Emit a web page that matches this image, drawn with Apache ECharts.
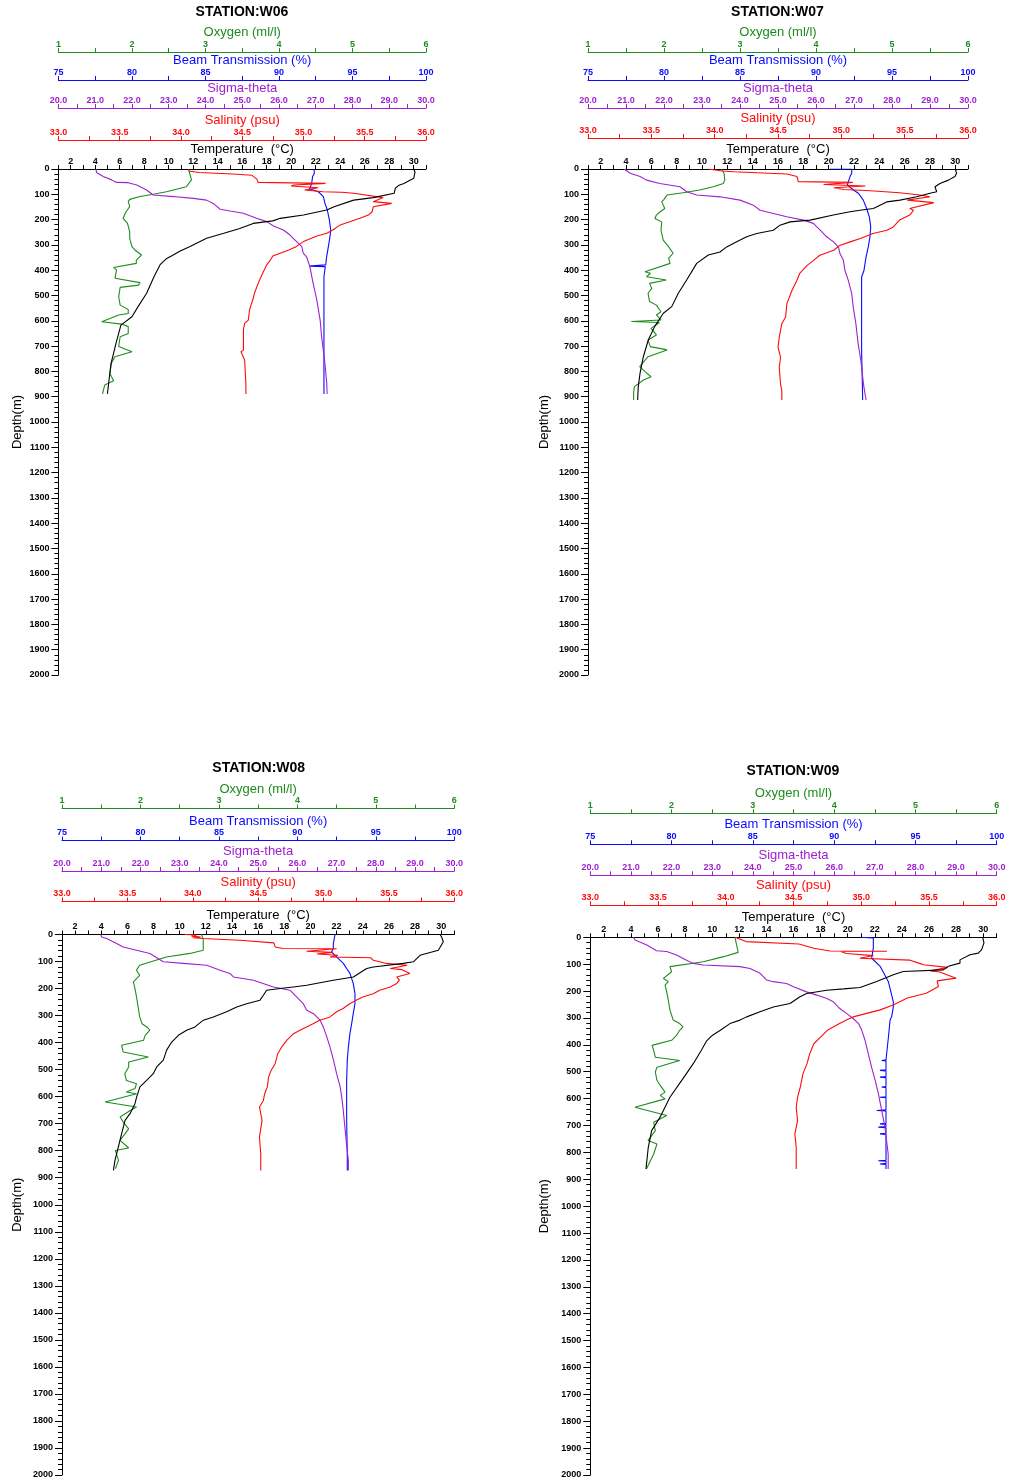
<!DOCTYPE html>
<html>
<head>
<meta charset="utf-8">
<title>CTD profiles W06-W09</title>
<script src="https://cdn.jsdelivr.net/npm/echarts/dist/echarts.min.js"></script>
<style>
  html, body { margin: 0; padding: 0; background: #ffffff; }
  #chart { width: 1011px; height: 1483px; }
</style>
</head>
<body>
<div id="chart"></div>
<script>
// ---- Profile data: [value, depth (m)] ----
const stations = ['W06', 'W07', 'W08', 'W09'];

// Station W06
const w06Temp = [[30.0,0],[30.1,12],[30.0,37],[29.2,57],[28.8,64],[28.5,76],[28.4,96],[26.7,113],[25.1,123],[23.5,149],[22.9,162],[21.0,182],[19.1,195],[18.5,205],[16.9,215],[15.8,235],[14.5,254],[13.1,274],[11.7,307],[10.9,325],[10.3,342],[9.8,355],[9.3,378],[8.8,426],[8.2,491],[7.5,544],[7.0,584],[6.1,617],[5.7,689],[5.3,768],[5.1,847],[5.0,889]];
const w06Sal = [[34.06,8],[34.15,14],[34.42,20],[34.58,25],[34.62,40],[34.63,53],[35.18,57],[34.92,63],[34.90,67],[35.12,74],[35.01,83],[35.16,90],[35.31,92],[35.41,96],[35.65,113],[35.57,129],[35.72,136],[35.57,149],[35.56,169],[35.53,182],[35.46,195],[35.30,221],[35.24,241],[35.19,254],[35.11,265],[35.00,287],[34.94,307],[34.88,320],[34.81,333],[34.75,344],[34.73,360],[34.70,379],[34.66,419],[34.63,452],[34.60,491],[34.59,511],[34.56,557],[34.55,597],[34.52,610],[34.51,636],[34.51,716],[34.49,722],[34.52,755],[34.53,847],[34.53,889]];
const w06Sigma = [[21.02,0],[21.04,14],[21.22,30],[21.45,43],[21.58,53],[21.90,54],[22.13,63],[22.40,83],[22.58,103],[22.63,107],[23.13,109],[23.67,116],[24.03,123],[24.21,136],[24.40,159],[24.67,166],[25.03,175],[25.39,195],[25.67,208],[25.85,225],[26.12,241],[26.30,261],[26.48,287],[26.62,307],[26.66,333],[26.75,347],[26.84,386],[26.93,452],[27.03,518],[27.12,597],[27.16,663],[27.25,768],[27.30,847],[27.31,889]];
const w06Oxy = [[2.77,0],[2.77,7],[2.81,43],[2.74,70],[2.47,90],[2.29,100],[2.11,109],[1.97,120],[1.95,129],[1.97,149],[1.92,169],[1.88,195],[1.94,215],[1.97,248],[1.97,274],[2.00,307],[2.04,320],[2.13,340],[2.06,360],[2.06,373],[1.75,389],[1.79,399],[1.77,432],[2.11,449],[2.09,459],[1.84,468],[1.82,505],[1.84,538],[1.95,555],[1.95,571],[1.82,577],[1.59,604],[1.86,613],[1.95,623],[1.95,650],[1.84,663],[1.82,702],[2.00,722],[1.77,742],[1.72,768],[1.70,808],[1.75,837],[1.63,854],[1.60,889]];
const w06Beam = [[92.38,0],[92.34,7],[92.41,17],[92.29,30],[92.22,57],[92.15,70],[92.06,79],[92.34,83],[92.68,90],[93.02,109],[93.13,136],[93.29,162],[93.43,202],[93.52,241],[93.47,267],[93.36,307],[93.24,347],[93.18,379],[93.15,383],[92.06,384],[92.06,386],[93.15,386],[93.06,426],[93.06,518],[93.06,650],[93.06,781],[93.06,889]];

// Station W07
const w07Temp = [[30.0,0],[30.1,17],[29.97,30],[29.45,44],[28.79,57],[28.39,70],[28.53,90],[28.0,96],[26.95,110],[25.63,123],[24.58,130],[23.53,156],[22.47,163],[21.68,169],[20.37,182],[18.53,202],[16.95,209],[16.16,222],[15.63,242],[14.32,255],[13.53,268],[12.74,288],[11.95,308],[11.42,328],[10.5,340],[9.58,373],[8.79,439],[8.13,491],[7.61,544],[6.95,570],[6.26,623],[5.76,676],[5.37,742],[5.11,807],[4.97,860],[4.92,913]];
const w07Sal = [[33.95,0],[34.06,8],[34.15,11],[34.57,20],[34.65,30],[34.66,50],[35.09,53],[34.86,61],[35.19,67],[34.94,74],[35.02,81],[35.23,86],[35.46,94],[35.62,103],[35.70,110],[35.52,123],[35.73,133],[35.54,156],[35.57,163],[35.54,182],[35.46,202],[35.41,229],[35.36,242],[35.25,255],[35.15,275],[35.07,288],[34.99,301],[34.94,321],[34.83,341],[34.78,361],[34.73,381],[34.67,414],[34.65,440],[34.61,480],[34.57,533],[34.56,585],[34.53,612],[34.52,638],[34.51,665],[34.50,704],[34.52,744],[34.51,784],[34.52,850],[34.53,876],[34.53,913]];
const w07Sigma = [[20.95,0],[20.97,4],[21.11,17],[21.37,30],[21.54,44],[21.89,57],[22.42,70],[22.60,90],[22.86,103],[23.47,110],[24.0,123],[24.35,143],[24.53,163],[24.88,176],[25.23,189],[25.67,202],[25.93,215],[26.11,242],[26.28,268],[26.46,288],[26.59,308],[26.63,334],[26.72,361],[26.76,400],[26.85,440],[26.94,493],[26.98,546],[27.05,612],[27.11,691],[27.18,757],[27.25,850],[27.29,889],[27.32,913]];
const w07Oxy = [[2.76,0],[2.78,7],[2.79,17],[2.80,44],[2.78,57],[2.65,70],[2.47,83],[2.25,94],[2.04,103],[2.00,120],[1.97,130],[1.95,136],[2.01,156],[1.95,169],[1.90,182],[1.88,196],[1.97,209],[1.96,242],[1.99,281],[2.06,307],[2.12,333],[2.06,353],[2.08,373],[1.75,406],[1.82,412],[1.77,426],[2.03,439],[1.81,452],[1.84,472],[1.79,491],[1.81,524],[1.90,538],[1.96,564],[1.90,577],[1.96,597],[1.57,603],[1.94,607],[1.83,630],[1.90,656],[1.79,676],[1.82,702],[2.04,715],[1.79,742],[1.68,781],[1.75,801],[1.83,821],[1.73,834],[1.61,860],[1.60,887],[1.60,913]];
const w07Beam = [[90.92,0],[92.35,0],[92.39,4],[92.35,17],[92.24,30],[92.13,50],[92.06,63],[92.13,70],[92.46,83],[92.79,96],[93.11,123],[93.33,156],[93.51,189],[93.60,229],[93.55,268],[93.44,308],[93.29,348],[93.16,400],[93.0,427],[93.0,493],[93.0,585],[93.0,718],[93.05,850],[93.07,913]];

// Station W08
const w08Temp = [[29.91,0],[30.03,9],[30.16,27],[29.78,58],[28.38,77],[27.87,101],[27.10,107],[24.81,120],[24.30,126],[23.28,157],[21.75,169],[19.71,188],[18.69,194],[17.67,200],[16.65,206],[16.40,225],[16.14,243],[15.12,256],[14.36,268],[13.59,286],[12.57,305],[11.81,317],[11.17,342],[10.53,354],[9.90,373],[9.39,398],[9.00,428],[8.75,465],[8.24,490],[7.98,515],[7.47,540],[6.96,564],[6.71,601],[6.58,626],[6.20,663],[5.82,688],[5.56,737],[5.31,786],[5.05,836],[4.93,873]];
const w08Sal = [[33.94,0],[34.03,2],[33.99,6],[34.06,9],[34.00,12],[34.08,15],[34.36,21],[34.62,31],[34.63,46],[34.69,52],[35.10,53],[34.87,62],[35.07,66],[34.95,72],[35.11,77],[35.05,83],[35.36,86],[35.38,95],[35.43,101],[35.48,107],[35.64,114],[35.51,126],[35.60,130],[35.66,144],[35.56,157],[35.58,169],[35.56,181],[35.51,194],[35.43,206],[35.38,219],[35.30,231],[35.25,243],[35.20,256],[35.15,274],[35.10,286],[35.05,305],[34.97,317],[34.92,330],[34.87,342],[34.82,354],[34.77,367],[34.72,391],[34.68,416],[34.65,441],[34.63,478],[34.60,502],[34.58,527],[34.57,564],[34.55,589],[34.54,614],[34.51,638],[34.53,688],[34.51,750],[34.52,811],[34.52,873]];
const w08Sigma = [[20.99,0],[21.01,9],[21.14,15],[21.39,33],[21.56,46],[21.90,58],[22.24,70],[22.58,101],[23.09,107],[23.69,114],[24.03,132],[24.28,144],[24.37,157],[24.88,169],[25.39,194],[25.81,206],[25.98,231],[26.15,256],[26.24,280],[26.41,293],[26.58,317],[26.66,342],[26.75,379],[26.83,416],[26.92,465],[27.0,515],[27.09,564],[27.13,601],[27.17,651],[27.21,712],[27.26,786],[27.30,836],[27.30,873]];
const w08Oxy = [[2.78,0],[2.80,20],[2.80,58],[2.63,70],[2.33,83],[1.99,114],[1.95,132],[1.99,151],[1.91,175],[1.93,200],[1.95,231],[1.97,268],[1.99,305],[2.02,330],[2.08,342],[2.12,354],[2.06,373],[2.04,391],[1.76,410],[1.78,435],[1.80,441],[2.10,453],[1.85,472],[1.85,490],[1.80,515],[1.82,540],[1.95,552],[1.93,570],[1.82,583],[1.95,589],[1.55,620],[1.95,638],[1.87,651],[1.74,675],[1.78,694],[1.85,719],[1.74,762],[1.85,790],[1.68,799],[1.72,836],[1.68,867]];
const w08Beam = [[92.40,0],[92.35,15],[92.29,33],[92.29,52],[92.18,64],[92.25,70],[92.50,83],[92.71,95],[92.93,107],[93.14,126],[93.35,144],[93.56,181],[93.67,219],[93.67,256],[93.56,293],[93.46,330],[93.35,367],[93.25,416],[93.18,465],[93.14,540],[93.14,614],[93.14,688],[93.18,811],[93.18,873]];

// Station W09
const w09Temp = [[29.97,0],[30.06,21],[29.89,46],[29.64,59],[29.03,65],[28.29,84],[28.29,96],[27.43,108],[27.06,121],[24.10,127],[23.37,139],[22.14,164],[20.91,187],[19.7,192],[18.45,197],[16.97,209],[16.48,221],[15.74,246],[14.51,259],[13.53,277],[12.54,296],[12.05,308],[11.31,321],[10.6,346],[10.0,365],[9.59,385],[9.2,420],[8.6,470],[7.75,532],[6.88,595],[6.15,669],[5.53,719],[5.28,781],[5.11,862]];
const w09Sal = [[34.07,0],[34.15,16],[34.54,25],[34.65,41],[34.77,51],[35.19,52],[34.85,53],[34.89,60],[35.09,68],[34.99,78],[35.36,85],[35.43,97],[35.46,102],[35.64,112],[35.51,125],[35.58,129],[35.70,152],[35.56,162],[35.57,183],[35.48,208],[35.34,226],[35.24,251],[35.14,270],[34.94,296],[34.89,308],[34.84,321],[34.75,346],[34.70,371],[34.65,396],[34.62,433],[34.60,470],[34.57,507],[34.55,557],[34.53,595],[34.52,632],[34.53,682],[34.51,731],[34.52,781],[34.52,831],[34.52,862]];
const w09Sigma = [[21.06,0],[21.10,10],[21.39,29],[21.63,50],[21.88,53],[22.12,66],[22.37,85],[22.53,97],[22.78,103],[23.68,109],[23.93,116],[24.18,134],[24.34,159],[24.50,165],[24.83,172],[25.0,184],[25.32,203],[25.57,215],[25.82,228],[25.98,240],[26.14,265],[26.31,284],[26.47,302],[26.60,321],[26.68,346],[26.76,383],[26.84,433],[26.92,483],[27.01,532],[27.09,582],[27.17,644],[27.25,706],[27.29,756],[27.33,806],[27.33,862]];
const w09Oxy = [[2.78,0],[2.80,29],[2.82,56],[2.64,72],[2.39,91],[1.98,109],[2.00,128],[1.90,153],[1.96,165],[1.92,178],[1.94,203],[1.96,234],[1.98,271],[2.02,308],[2.10,321],[2.14,333],[2.10,346],[2.06,365],[2.00,383],[1.76,402],[1.78,421],[1.80,446],[2.10,458],[1.82,483],[1.80,501],[1.82,532],[1.86,551],[1.92,576],[1.86,588],[1.92,601],[1.55,632],[1.94,663],[1.78,688],[1.80,719],[1.71,756],[1.82,769],[1.78,806],[1.69,862]];
const w09Beam = [[91.59,0],[92.41,2],[92.41,40],[92.31,77],[92.83,108],[93.33,164],[93.64,239],[93.64,259],[93.54,295],[93.44,308],[93.34,371],[93.23,433],[93.19,456],[92.92,458],[93.19,460],[93.19,493],[92.82,495],[93.19,497],[93.19,518],[92.82,520],[93.19,522],[93.19,555],[92.92,557],[93.19,559],[93.19,593],[92.82,595],[93.19,597],[93.19,642],[92.62,644],[93.19,646],[93.19,692],[92.82,694],[93.19,696],[93.19,704],[92.72,706],[93.19,708],[93.19,729],[92.82,731],[93.19,733],[93.19,829],[92.72,831],[93.19,833],[93.19,841],[92.82,843],[93.19,845],[93.19,862]];

const profiles = {
  W06: { oxy: w06Oxy, beam: w06Beam, sigma: w06Sigma, sal: w06Sal, temp: w06Temp },
  W07: { oxy: w07Oxy, beam: w07Beam, sigma: w07Sigma, sal: w07Sal, temp: w07Temp },
  W08: { oxy: w08Oxy, beam: w08Beam, sigma: w08Sigma, sal: w08Sal, temp: w08Temp },
  W09: { oxy: w09Oxy, beam: w09Beam, sigma: w09Sigma, sal: w09Sal, temp: w09Temp }
};

// ---- Axis scales (top axes, outermost first) ----
const isWhole = v => Math.abs(v - Math.round(v)) < 1e-6;
const axisDefs = [
  { key: 'oxy',   name: 'Oxygen (ml/l)',         min: 1,  max: 6,   step: 0.5,  fmt: v => isWhole(v) ? String(Math.round(v)) : '' },
  { key: 'beam',  name: 'Beam Transmission (%)', min: 75, max: 100, step: 2.5,  fmt: v => isWhole(v / 5) ? String(Math.round(v)) : '' },
  { key: 'sigma', name: 'Sigma-theta',           min: 20, max: 30,  step: 0.5,  fmt: v => isWhole(v) ? v.toFixed(1) : '' },
  { key: 'sal',   name: 'Salinity (psu)',        min: 33, max: 36,  step: 0.25, fmt: v => isWhole(v * 2) ? v.toFixed(1) : '' },
  { key: 'temp',  name: 'Temperature  (\u00B0C)', min: 1, max: 31,  step: 1,    fmt: v => (isWhole(v) && Math.round(v) % 2 === 0) ? String(Math.round(v)) : '' }
];
const depthRange = { min: 0, max: 2000, step: 100 };

// ---- Styling & panel layout ----
const colors = { oxy: '#1e8c1e', beam: '#0a0aff', sigma: '#a020d0', sal: '#ff0a0a', temp: '#000000' };
const FONT = '"Liberation Sans", Arial, Helvetica, sans-serif';
const panels = {
  W06: { left: 58.4,  top: 169,   width: 367.6, height: 506,   offsets: [117, 89, 61, 29, 0],  title: [242, 12],    depthGap: 34 },
  W07: { left: 588,   top: 169,   width: 380,   height: 506,   offsets: [117, 89, 61, 31, 0],  title: [777.5, 12],  depthGap: 37 },
  W08: { left: 62,    top: 934.5, width: 392.3, height: 540.5, offsets: [126, 94, 63.5, 33, 0], title: [258.7, 768], depthGap: 38 },
  W09: { left: 590.3, top: 937.3, width: 406.4, height: 537.7, offsets: [124, 93, 62, 32, 0],  title: [793, 771.5], depthGap: 39 }
};

const grid = [], xAxis = [], yAxis = [], series = [], graphic = [];

stations.forEach((st, i) => {
  const p = panels[st];
  grid.push({ left: p.left, top: p.top, width: p.width, height: p.height, containLabel: false });

  graphic.push({
    type: 'text', x: p.title[0], y: p.title[1],
    style: { text: 'STATION:' + st, fill: '#000', fontSize: 14, fontWeight: 'bold', fontFamily: FONT, align: 'center', verticalAlign: 'middle' }
  });

  axisDefs.forEach((a, j) => {
    const c = colors[a.key];
    xAxis.push({
      gridIndex: i, type: 'value', position: 'top', offset: p.offsets[j],
      min: a.min, max: a.max, interval: a.step,
      name: a.name, nameLocation: 'middle', nameGap: 12,
      nameTextStyle: { color: c, fontSize: 13, fontFamily: FONT },
      axisLine: { show: true, onZero: false, lineStyle: { color: c, width: 1 } },
      axisTick: { show: true, length: 4, lineStyle: { color: c, width: 1 } },
      axisLabel: { show: true, margin: 3, color: c, fontSize: 9, fontWeight: 'bold', fontFamily: FONT, formatter: a.fmt, showMinLabel: true, showMaxLabel: true },
      splitLine: { show: false }
    });
    series.push({
      type: 'line', name: st + ' ' + a.name,
      xAxisIndex: i * axisDefs.length + j, yAxisIndex: i,
      data: profiles[st][a.key],
      showSymbol: false, symbol: 'none', smooth: false,
      color: c, lineStyle: { color: c, width: 1.1 },
      z: 2 + j, silent: true
    });
  });

  yAxis.push({
    gridIndex: i, type: 'value', inverse: true,
    min: depthRange.min, max: depthRange.max, interval: depthRange.step,
    name: 'Depth(m)', nameLocation: 'middle', nameGap: p.depthGap, nameRotate: 90,
    nameTextStyle: { color: '#000', fontSize: 13, fontFamily: FONT },
    axisLine: { show: true, onZero: false, lineStyle: { color: '#000', width: 1 } },
    axisTick: { show: true, length: 7, lineStyle: { color: '#000' } },
    minorTick: { show: true, splitNumber: 5, length: 4, lineStyle: { color: '#000' } },
    axisLabel: { margin: 9, color: '#000', fontSize: 9, fontWeight: 'bold', fontFamily: FONT, formatter: v => String(v) },
    splitLine: { show: false }, minorSplitLine: { show: false }
  });
});

const chart = echarts.init(document.getElementById('chart'), null, { renderer: 'canvas' });
chart.setOption({
  animation: false,
  backgroundColor: '#ffffff',
  textStyle: { fontFamily: FONT },
  grid, xAxis, yAxis, series, graphic
});
</script>
</body>
</html>
